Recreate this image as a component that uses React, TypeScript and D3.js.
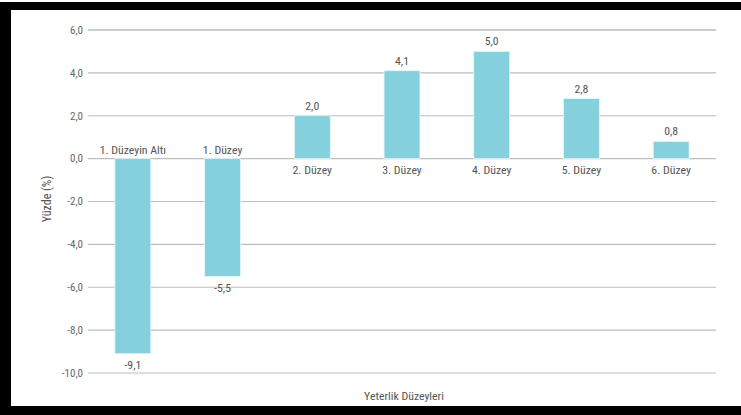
import React from "react";
import * as d3 from "d3";

const categories = ["1. Düzeyin Altı", "1. Düzey", "2. Düzey", "3. Düzey", "4. Düzey", "5. Düzey", "6. Düzey"];
const values = [-9.1, -5.5, 2.0, 4.1, 5.0, 2.8, 0.8];
const yTicks = [6, 4, 2, 0, -2, -4, -6, -8, -10];
const yTitle = "Yüzde (%)";
const xTitle = "Yeterlik Düzeyleri";

const W = 741;
const H = 415;
const FONT = "'Liberation Sans Narrow', 'Roboto Condensed', 'Liberation Sans', sans-serif";
const fmt = (v: number) => v.toFixed(1).replace(".", ",");

export default function App() {
  const x = d3.scaleBand<string>().domain(categories).range([88, 716]).paddingInner(0.6).paddingOuter(0.3);
  const y = d3.scaleLinear().domain([-10, 6]).range([373, 30]);
  const bw = x.bandwidth();
  return (
    <div style={{ position: "fixed", left: 0, top: 0, width: W, height: H }}>
      <svg width={W} height={H} style={{ display: "block", fontFamily: FONT }}>
        <rect x={0} y={0} width={W} height={H} fill="#fff" />
        <rect x={0} y={2} width={W} height={8} fill="#000" />
        <rect x={0} y={406} width={W} height={9} fill="#000" />
        <rect x={0} y={2} width={11} height={413} fill="#000" />
        {yTicks.map((t) => (
          <g key={t}>
            <line x1={88} x2={716} y1={y(t)} y2={y(t)} stroke={t === 6 ? "#9a9a9a" : "#bdbdbd"} strokeWidth={1.2} />
            <text x={83} y={y(t)} dy="0.35em" textAnchor="end" fontSize={11} fill="#666">{fmt(t)}</text>
          </g>
        ))}
        {categories.map((c, i) => {
          const v = values[i];
          const x0 = x(c)!;
          const cx = x0 + bw / 2;
          const top = y(Math.max(0, v));
          const bot = y(Math.min(0, v));
          return (
            <g key={c}>
              <rect x={x0} y={top} width={bw} height={bot - top} fill="#84d1dd" stroke="#e6f5f8" strokeWidth={0.8} />
              <text x={cx} y={v >= 0 ? top - 6 : bot + 15} textAnchor="middle" fontSize={11.8} fill="#555">{fmt(v)}</text>
              <text x={cx} y={v >= 0 ? y(0) + 15 : y(0) - 5} textAnchor="middle" fontSize={11.8} fill="#555">{c}</text>
            </g>
          );
        })}
        <text transform={`translate(51,199) rotate(-90)`} textAnchor="middle" fontSize={12} fill="#555">{yTitle}</text>
        <text x={404} y={400} textAnchor="middle" fontSize={11.8} fill="#555">{xTitle}</text>
      </svg>
    </div>
  );
}
